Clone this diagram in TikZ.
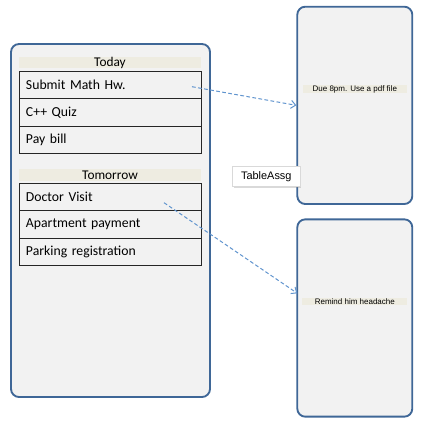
\documentclass[tikz,border=0pt]{standalone}
\usepackage{fontspec}
\setmainfont{Carlito}
\newfontfamily\arialfont{Liberation Sans}
\usetikzlibrary{arrows.meta,shadows}
\definecolor{panelblue}{HTML}{3F6797}
\definecolor{panelgray}{HTML}{F2F2F2}
\definecolor{headbeige}{HTML}{EEECE1}
\definecolor{linkblue}{HTML}{6094CE}
\tikzset{my panel/.style={draw=panelblue, line width=1.4pt, fill=panelgray, rounded corners=6pt, inner sep=0pt},
my header/.style={fill=headbeige, minimum width=136.5pt, minimum height=8.7pt, inner sep=0pt, font=\fontsize{10}{11}\selectfont},
my row/.style={draw=black!85, line width=0.7pt, fill=panelgray, text width=126pt, align=left, inner xsep=5.25pt, minimum height=20.6pt, font=\fontsize{10.3}{12}\selectfont},
my note/.style={fill=headbeige, inner xsep=0.5pt, inner ysep=0.4pt, font=\arialfont\fontsize{6}{7}\selectfont},
my link/.style={draw=linkblue, line width=0.75pt, dash pattern=on 2.8pt off 1.8pt, -{Straight Barb[length=3.5pt,width=6pt]}},}

\begin{document}
\begin{tikzpicture}[x=0.75pt,y=-0.75pt]
\useasboundingbox (0,0) rectangle (428,422);
\node [my panel, minimum width=149.25pt, minimum height=264.75pt] (listpanel) at (110.5,220.5) {};
\node [my header] (today) at (110,62.5) {Today};
\node [my row] (submit) at (110,84.75) {Submit Math Hw.};
\node [my row] (quiz) at (110,112.25) {C++ Quiz};
\node [my row] (bill) at (110,139.75) {Pay bill};
\node [my header] (tomorrow) at (110,175) {Tomorrow};
\node [my row] (doctor) at (110,197) {Doctor Visit};
\node [my row] (apartment) at (110,224.4) {Apartment payment};
\node [my row] (parking) at (110,251.8) {Parking registration};
\node [my panel, minimum width=86.25pt, minimum height=148pt] (duebox) at (354.8,105.35) {};
\node [my panel, minimum width=86.25pt, minimum height=148pt] (remindbox) at (354.8,318) {};
\node [my note, minimum width=77.8pt] (duelabel) at (354.8,89) {Due 8pm. Use a pdf file};
\node [my note, minimum width=78.5pt] (remindlabel) at (354.8,301.3) {Remind him headache};
\node [draw=black!15, fill=white, line width=0.4pt, minimum width=50.5pt, minimum height=14.5pt, inner sep=0pt, drop shadow={opacity=0.3, shadow xshift=0.7pt, shadow yshift=-1.4pt}, font=\arialfont\fontsize{8.2}{9}\selectfont] (tableassg) at (266.3,176.3) {TableAssg};
% dashed links from the tasks to their notes
\coordinate (submit end) at (192,86.7);
\coordinate (doctor end) at (164,202.7);
\coordinate (remind in) at (297.3,293.3);
\draw [my link] (submit end) -- (duebox.west);
\draw [my link] (doctor end) -- (remind in);
\end{tikzpicture}
\end{document}
